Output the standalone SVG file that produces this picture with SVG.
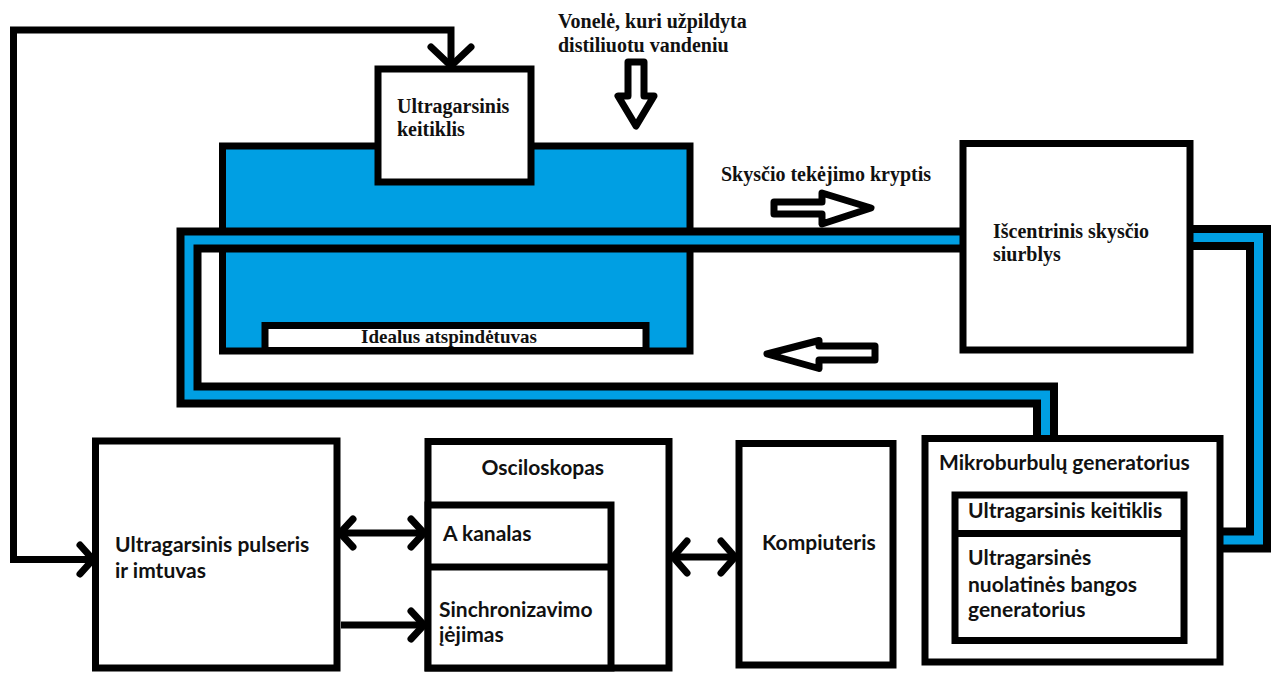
<svg xmlns="http://www.w3.org/2000/svg" width="1278" height="673" viewBox="0 0 1278 673">
<defs>
<style>
.box{fill:#fff;stroke:#000;stroke-width:7}
.ln{fill:none;stroke:#000;stroke-width:7}
.chev{fill:none;stroke:#000;stroke-width:7;stroke-linecap:round;stroke-linejoin:miter}
.hollow{fill:#fff;stroke:#000;stroke-width:7;stroke-linejoin:round}
.pipeO{fill:none;stroke:#000;stroke-width:25;stroke-linejoin:miter}
.pipeI{fill:none;stroke:#009fe3;stroke-width:9;stroke-linejoin:miter}
.serif{font-family:"Liberation Serif","Times New Roman",serif;font-weight:bold;font-size:20px;fill:#111}
.sans{font-family:Lato,"Liberation Sans",sans-serif;font-weight:bold;font-size:21px;fill:#111}
</style>
</defs>
<rect width="1278" height="673" fill="#fff"/>

<g id="tank">
<rect x="222.5" y="146" width="467.5" height="205" fill="#009fe3" stroke="#000" stroke-width="7"/>
</g>

<g id="connectors">
<g id="pipes">
<path class="pipeO" d="M968 240 H189 V395 H1045.5 V442"/>
<path class="pipeI" d="M968 240 H189 V395 H1045.5 V442"/>
<path class="pipeO" d="M1185 237.5 H1258.5 V540 H1215"/>
<path class="pipeI" d="M1185 237.5 H1258.5 V540 H1215"/>
</g>
<path class="ln" d="M95 559.5 H13.5 V30 H451 V64"/>
<path class="chev" d="M431 47 L451 66 L471 47"/>
<path class="chev" d="M80 545 L93 559.5 L80 574"/>
<path class="ln" d="M341 533 H423"/>
<path class="chev" d="M353 519 L340 533 L353 547"/>
<path class="chev" d="M411 519 L424 533 L411 547"/>
<path class="ln" d="M341 625 H423"/>
<path class="chev" d="M411 611 L424 625 L411 639"/>
<path class="ln" d="M673 557 H735"/>
<path class="chev" d="M687 541 L673 557 L687 573"/>
<path class="chev" d="M721 541 L735 557 L721 573"/>
<path id="arrow-in" class="hollow" d="M628 62 H644 V96 H654 L636 126 L618 96 H628 Z"/>
<path id="arrow-right" class="hollow" d="M774 202 H822 V193 L871 208 L822 224 V214 H774 Z"/>
<path id="arrow-left" class="hollow" d="M875 346 H819 V340.5 L767 354 L819 368.5 V360 H875 Z"/>
</g>

<g id="reflector">
<rect class="box" x="265" y="325.5" width="381" height="25"/>
<text class="serif" x="449" y="343" text-anchor="middle" style="font-size:19px">Idealus atspindėtuvas</text>
</g>

<g id="transducer-top">
<rect class="box" x="378" y="69" width="153" height="113"/>
<text class="serif" x="397" y="113">Ultragarsinis</text>
<text class="serif" x="397" y="136">keitiklis</text>
</g>

<g id="bath-label">
<text class="serif" x="558" y="28">Vonelė, kuri užpildyta</text>
<text class="serif" x="558" y="52">distiliuotu vandeniu</text>
</g>

<g id="flow-label">
<text class="serif" x="721" y="181">Skysčio tekėjimo kryptis</text>
</g>

<g id="pump">
<rect class="box" x="963" y="143.5" width="227" height="206.5"/>
<text class="serif" x="993" y="238">Išcentrinis skysčio</text>
<text class="serif" x="993" y="261">siurblys</text>
</g>

<g id="pulser">
<rect class="box" x="95.5" y="441" width="241.5" height="227"/>
<text class="sans" x="115" y="552">Ultragarsinis pulseris</text>
<text class="sans" x="115" y="578">ir imtuvas</text>
</g>

<g id="oscilloscope">
<rect class="box" x="428" y="441.5" width="241" height="226.5"/>
<text class="sans" x="481.5" y="475">Osciloskopas</text>
<rect class="box" x="428" y="505" width="183" height="163"/>
<line class="ln" x1="428" y1="567" x2="611" y2="567"/>
<text class="sans" x="443" y="541">A kanalas</text>
<text class="sans" x="439" y="617">Sinchronizavimo</text>
<text class="sans" x="439" y="642">įėjimas</text>
</g>

<g id="computer">
<rect class="box" x="739" y="443.5" width="154" height="221.5"/>
<text class="sans" x="762" y="550">Kompiuteris</text>
</g>

<g id="microbubble">
<rect class="box" x="925" y="438.5" width="295" height="223.5"/>
<text class="sans" x="939" y="470">Mikroburbulų generatorius</text>
<rect class="box" x="955" y="495" width="229" height="145.5"/>
<line class="ln" x1="955" y1="533.5" x2="1184" y2="533.5"/>
<text class="sans" x="968" y="518">Ultragarsinis keitiklis</text>
<text class="sans" x="968" y="565">Ultragarsinės</text>
<text class="sans" x="968" y="592">nuolatinės bangos</text>
<text class="sans" x="968" y="617">generatorius</text>
</g>
</svg>
